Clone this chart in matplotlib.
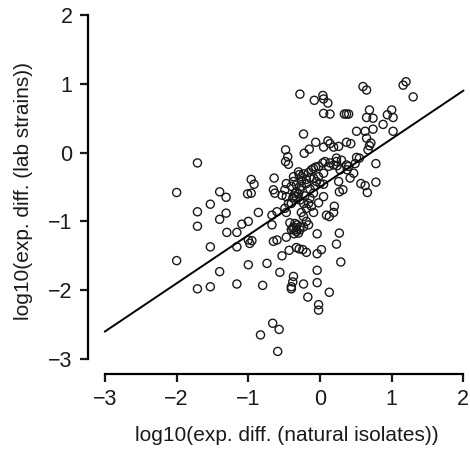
import matplotlib
matplotlib.use("Agg")
import matplotlib.pyplot as plt
import numpy as np

plt.rcParams['font.family'] = ['Liberation Sans', 'DejaVu Sans']

# log10 expression differences: natural isolates (x) vs lab strains (y)
natural_isolates = [
    1.20, 1.16, 0.60, 0.65, 1.30, -0.28, -0.08, 0.04, 0.05, 0.11,
    0.05, 0.14, 0.34, 0.37, 0.40, 0.69, 0.65, 0.74, 1.00, 0.94,
    1.02, 0.88, 0.74, 0.63, 0.51, 1.02, -0.23, 0.65, 0.71, 0.69,
    0.67, -0.06, 0.11, 0.14, 0.19, 0.26, 0.37, 0.43, -0.15, -0.22,
    -0.48, -0.45, -0.48, -0.44, 0.51, 0.55, 0.78, -1.71,
    0.04, 0.14, 0.19, 0.24, -0.06, -0.12, -0.16, -0.23, -0.29, -0.37,
    -0.33, -0.26, -0.19, -0.09, -0.02, 0.00, 0.05, -0.07, -0.14, -0.28,
    -0.35, -0.33, -0.38, -0.28, -0.21, -0.14, -0.09, -0.23, -0.16, -0.02,
    0.05, 0.38, 0.47, 0.42, 0.28, 0.37, 0.26, 0.32, 0.27, 0.57,
    0.63, 0.66, 0.78, -0.64, -0.96, -0.92, -0.65, -0.63, -0.53, -0.49,
    -0.47, -0.44, -0.49, -0.40, -2.00, -1.40, -1.31, -1.01, -0.96, -1.53,
    -1.71, -1.31, -1.40, -1.71, -0.86, -0.67, -0.60, -0.47, -0.26, -0.09,
    0.09, 0.13, 0.19, 0.20, -0.23, -0.19, -1.09, -1.00, -1.16, -1.30,
    -0.67, -0.42, -0.37, -0.33, -0.28, -0.30, -0.36, -0.40, -0.23, -0.16,
    -0.04, 0.27, -1.00, -0.98, -0.95, -0.65, -0.60, -0.47, -1.53, -1.16,
    0.23, -0.33, -0.29, -0.24, -0.19, -0.43, -0.53, -0.04, 0.02, -2.00,
    -0.74, -1.00, 0.29, -1.40, -0.56, -0.04, -0.37, -0.38, -0.40, -0.40,
    -1.71, -1.53, -1.16, -0.80, -0.23, -0.04, 0.13, -0.17, -0.02, -0.02,
    -0.66, -0.57, -0.83, -0.59,
    0.49, 0.23, 0.30, 0.40, 0.05, -0.30, -0.09, -0.02, 0.07, 0.12,
    0.23, -0.37, -0.26, -0.14, 0.05, -0.33, -0.30, -0.36, -0.35, -0.32,
    -0.38, -0.33, -0.28, -0.26, -0.19, -0.05, -0.47, -0.40, -0.19, -0.12,
]
lab_strains = [
    1.03, 0.98, 0.96, 0.91, 0.81, 0.85, 0.76, 0.83, 0.78, 0.72,
    0.57, 0.56, 0.56, 0.56, 0.56, 0.62, 0.51, 0.50, 0.62, 0.55,
    0.51, 0.41, 0.34, 0.31, 0.31, 0.31, 0.27, 0.21, 0.14, 0.10,
    0.04, 0.15, 0.17, 0.13, 0.08, 0.09, 0.15, 0.13, 0.05, -0.01,
    0.04, -0.06, -0.13, -0.17, -0.07, -0.08, -0.16, -0.15,
    -0.15, -0.15, -0.18, -0.19, -0.21, -0.25, -0.29, -0.31, -0.32, -0.42,
    -0.47, -0.41, -0.39, -0.37, -0.35, -0.45, -0.46, -0.49, -0.53, -0.54,
    -0.59, -0.64, -0.66, -0.69, -0.63, -0.66, -0.59, -0.74, -0.74, -0.73,
    -0.64, -0.25, -0.30, -0.37, -0.25, -0.18, -0.42, -0.54, -0.57, -0.45,
    -0.48, -0.58, -0.43, -0.37, -0.39, -0.46, -0.54, -0.59, -0.62, -0.54,
    -0.64, -0.74, -0.81, -0.74, -0.58, -0.57, -0.65, -0.60, -0.59, -0.75,
    -0.86, -0.88, -0.97, -1.07, -0.87, -0.91, -0.86, -0.87, -0.87, -0.87,
    -0.91, -0.93, -0.87, -0.78, -0.93, -1.00, -1.04, -1.00, -1.16, -1.16,
    -1.05, -1.02, -1.08, -1.12, -1.08, -1.17, -1.18, -1.12, -1.08, -1.05,
    -1.18, -1.17, -1.27, -1.32, -1.28, -1.29, -1.27, -1.23, -1.37, -1.37,
    -1.33, -1.38, -1.40, -1.41, -1.45, -1.42, -1.50, -1.47, -1.41, -1.57,
    -1.61, -1.63, -1.59, -1.73, -1.74, -1.71, -1.80, -1.88, -1.95, -1.98,
    -1.98, -1.95, -1.91, -1.93, -1.91, -1.89, -2.03, -2.10, -2.21, -2.29,
    -2.48, -2.57, -2.65, -2.89,
    -0.16, -0.08, -0.11, -0.20, 0.08, -0.28, -0.23, -0.20, -0.13, -0.20,
    -0.13, -0.35, -0.35, -0.37, -0.30, -0.57, -0.60, -0.63, -1.03, -1.05,
    -1.10, -1.15, -1.12, -0.49, -0.45, -0.42, -0.45, -0.49, -0.81, -0.78,
]

# fitted line: y = intercept + slope * x
fit_intercept = -0.5
fit_slope = 0.70
fit_x = [-3.0, 2.0]

x_ticks = [-3, -2, -1, 0, 1, 2]
y_ticks = [-3, -2, -1, 0, 1, 2]

fig = plt.figure(figsize=(4.70, 4.53), dpi=100)
ax = fig.add_axes([88/470, 79/453, 382/470, 374/453])

ax.scatter(natural_isolates, lab_strains, s=34, facecolors='none',
           edgecolors='#1a1a1a', linewidths=1.0, zorder=2)
fx = np.array(fit_x)
ax.plot(fx, fit_intercept + fit_slope * fx, color='black', lw=1.4, zorder=3)

ax.set_xlim(-3.237, 2.093)
ax.set_ylim(-3.218, 2.218)

for s in ['top', 'right']:
    ax.spines[s].set_visible(False)
for s in ['left', 'bottom']:
    ax.spines[s].set_linewidth(1.6)
ax.spines['bottom'].set_bounds(-3, 2)
ax.spines['left'].set_bounds(-3, 2)

ax.set_xticks(x_ticks)
ax.set_yticks(y_ticks)
ax.set_xticklabels([str(t).replace('-', '\u2212') for t in x_ticks])
ax.set_yticklabels([str(t).replace('-', '\u2212') for t in y_ticks])
ax.tick_params(axis='both', length=6, width=1.6, labelsize=15.5,
               colors='#1a1a1a', pad=5)

ax.set_xlabel('log10(exp. diff. (natural isolates))', fontsize=15, color='#1a1a1a')
ax.set_ylabel('log10(exp. diff. (lab strains))', fontsize=15, color='#1a1a1a')
ax.xaxis.set_label_coords(0.52, -0.14)
ax.yaxis.set_label_coords(-0.145, 0.49)

fig.savefig('out.png', dpi=100)
